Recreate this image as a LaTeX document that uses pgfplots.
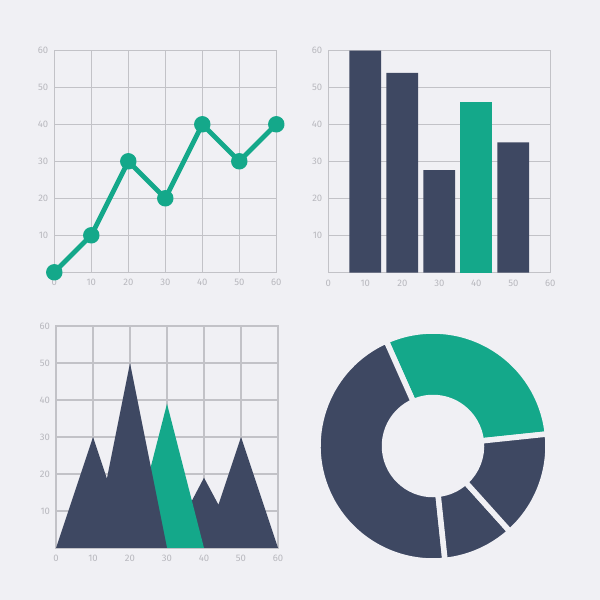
\documentclass[border=0pt]{standalone}
\usepackage{fontspec}
\setmainfont{Fira Sans}
\usepackage{pgfplots}
\pgfplotsset{compat=1.18}

\definecolor{bgc}{HTML}{F0F0F4}
\definecolor{navy}{HTML}{3E4862}
\definecolor{teal}{HTML}{14A88A}
\definecolor{gridc}{HTML}{C2C2C7}
\definecolor{lbl}{HTML}{B8B8BE}

\pgfplotsset{
  minichart/.style={
    scale only axis, width=222pt, height=222pt,
    anchor=south west,
    xmin=0, xmax=60, ymin=0, ymax=60,
    xtick={0,10,...,60}, ytick={10,20,...,60},
    major tick length=0pt,
    tick label style={font=\fontsize{9.5}{11}\selectfont, text=lbl},
    xticklabel style={yshift=-3.5pt},
    yticklabel style={xshift=-2.5pt},
    /pgf/number format/assume math mode=true,
    axis line style={draw=gridc, line width=1.3pt},
    grid style={draw=gridc, line width=1.3pt},
  },
}

% one ring segment: start angle, share in percent, colour
\newcommand{\donutseg}[3]{%
  \fill[#3, draw=bgc, line width=5.5pt]
    (axis cs:{115*cos(#1)},{115*sin(#1)})
    arc[start angle=#1, end angle={#1+3.6*#2}, radius=115pt]
    -- (axis cs:{48.5*cos(#1+3.6*#2)},{48.5*sin(#1+3.6*#2)})
    arc[start angle={#1+3.6*#2}, end angle=#1, radius=48.5pt]
    -- cycle;
}

\begin{document}
\begin{tikzpicture}
\path[use as bounding box, fill=bgc] (0,0) rectangle (600pt,600pt);

% line chart
\begin{axis}[minichart, at={(54.3pt,327.7pt)}, grid=major, clip=false]
  \addplot[teal, line width=4.8pt, line join=round,
    mark=*, mark size=5.8pt, mark options={fill=teal, draw=none}]
    coordinates {(0,0) (10,10) (20,30) (30,20) (40,40) (50,30) (60,40)};
\end{axis}

% bar chart
\begin{axis}[minichart, at={(328.3pt,327.3pt)}, ymajorgrids,
    ybar, bar width=31.7pt]
  \addplot[fill=navy, draw=none, bar shift=0pt]
    coordinates {(10,60) (20,54) (30,27.7) (50,35.2)};
  \addplot[fill=teal, draw=none, bar shift=0pt]
    coordinates {(40,46)};
\end{axis}

% mountain chart
\begin{axis}[minichart, at={(56pt,52pt)}, grid=major]
  \addplot[fill=navy, draw=none]
    coordinates {(30,0) (40,19) (43.9,11.7) (50,30) (60,0)} \closedcycle;
  \addplot[fill=teal, draw=none]
    coordinates {(20,0) (30,39) (40,0)} \closedcycle;
  \addplot[fill=navy, draw=none]
    coordinates {(0,0) (10,30) (13.75,18.75) (20,50) (30,0)} \closedcycle;
\end{axis}

% donut
\begin{axis}[hide axis, x=1pt, y=1pt, xmin=-120, xmax=120,
    ymin=-120, ymax=120, anchor=south west, at={(313pt,34pt)},
    scale only axis, clip=false]
  \donutseg{6}{30}{teal}
  \donutseg{114}{45}{navy}
  \donutseg{276}{10}{navy}
  \donutseg{312}{15}{navy}
\end{axis}
\end{tikzpicture}
\end{document}
